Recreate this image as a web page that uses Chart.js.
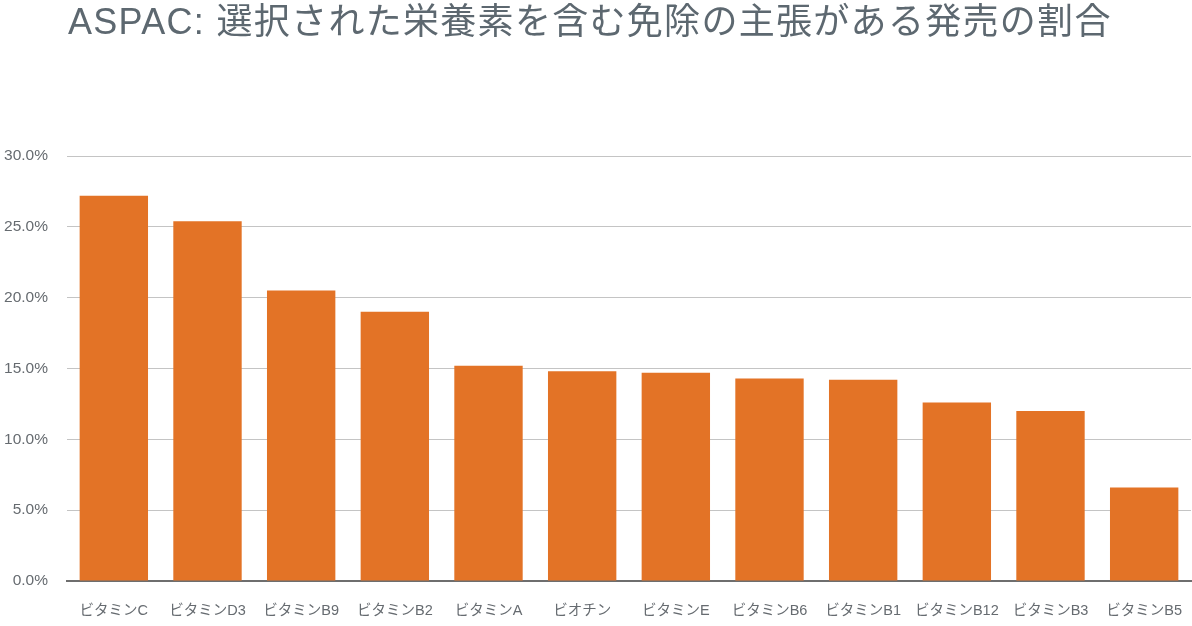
<!DOCTYPE html>
<html>
<head>
<meta charset="utf-8">
<script src="https://cdn.jsdelivr.net/npm/chart.js@4.4.1/dist/chart.umd.min.js"></script>
<style>
  html, body { margin: 0; padding: 0; background: #fff; }
  #wrap { width: 1192px; height: 626px; }
</style>
</head>
<body>
<div id="wrap"><canvas id="claimsChart"></canvas></div>
<script>
const titleText = 'ASPAC: 選択された栄養素を含む免除の主張がある発売の割合';
const nutrients = ['ビタミンC', 'ビタミンD3', 'ビタミンB9', 'ビタミンB2', 'ビタミンA', 'ビオチン',
    'ビタミンE', 'ビタミンB6', 'ビタミンB1', 'ビタミンB12', 'ビタミンB3', 'ビタミンB5'];
const launchShare = [27.2, 25.4, 20.5, 19.0, 15.2, 14.8, 14.7, 14.3, 14.2, 12.6, 12.0, 6.6];
const yTicks = [0, 5, 10, 15, 20, 25, 30];

document.addEventListener("DOMContentLoaded", function () {
    const fontFamily = '"Liberation Sans", "Noto Sans CJK JP", sans-serif';

    // title drawn by hand so it can sit indented like the original
    const titlePlugin = {
        id: 'leftTitle',
        afterDraw(chart) {
            const c = chart.ctx;
            c.save();
            c.font = '36px ' + fontFamily;
            c.fillStyle = '#5d6870';
            c.textBaseline = 'alphabetic';
            c.letterSpacing = '1.3px';
            c.fillText(titleText, 68, 34);
            c.restore();
        }
    };

    const ctx = document.getElementById('claimsChart').getContext('2d');
    new Chart(ctx, {
        type: 'bar',
        data: {
            labels: nutrients,
            datasets: [{
                data: launchShare,
                backgroundColor: '#e37326',
                categoryPercentage: 1,
                barPercentage: 0.73
            }]
        },
        plugins: [titlePlugin],
        options: {
            responsive: true,
            maintainAspectRatio: false,
            animation: false,
            layout: { autoPadding: false, padding: { left: 2, right: 1, top: 156, bottom: 0 } },
            plugins: {
                legend: { display: false },
                tooltip: { enabled: false },
                title: { display: false }
            },
            scales: {
                x: {
                    afterFit: function (axis) {
                        axis.height = 45;
                        axis.paddingLeft = 0;
                        axis.paddingRight = 0;
                    },
                    grid: { display: false, drawTicks: false },
                    border: { display: true, color: '#6e6e6e', width: 2 },
                    ticks: {
                        color: '#666b70',
                        font: { family: fontFamily, size: 14.5 },
                        padding: 21,
                        maxRotation: 0,
                        autoSkip: false
                    }
                },
                y: {
                    min: 0,
                    max: 30,
                    afterBuildTicks: function (axis) {
                        axis.ticks = yTicks.map(v => ({ value: v }));
                    },
                    afterFit: function (axis) { axis.width = 65; },
                    grid: { color: '#c4c4c4', lineWidth: 1, drawTicks: false },
                    border: { display: false },
                    ticks: {
                        color: '#666b70',
                        font: { family: fontFamily, size: 15.5 },
                        padding: 19,
                        callback: v => v.toFixed(1) + '%'
                    }
                }
            }
        }
    });
});
</script>
</body>
</html>
